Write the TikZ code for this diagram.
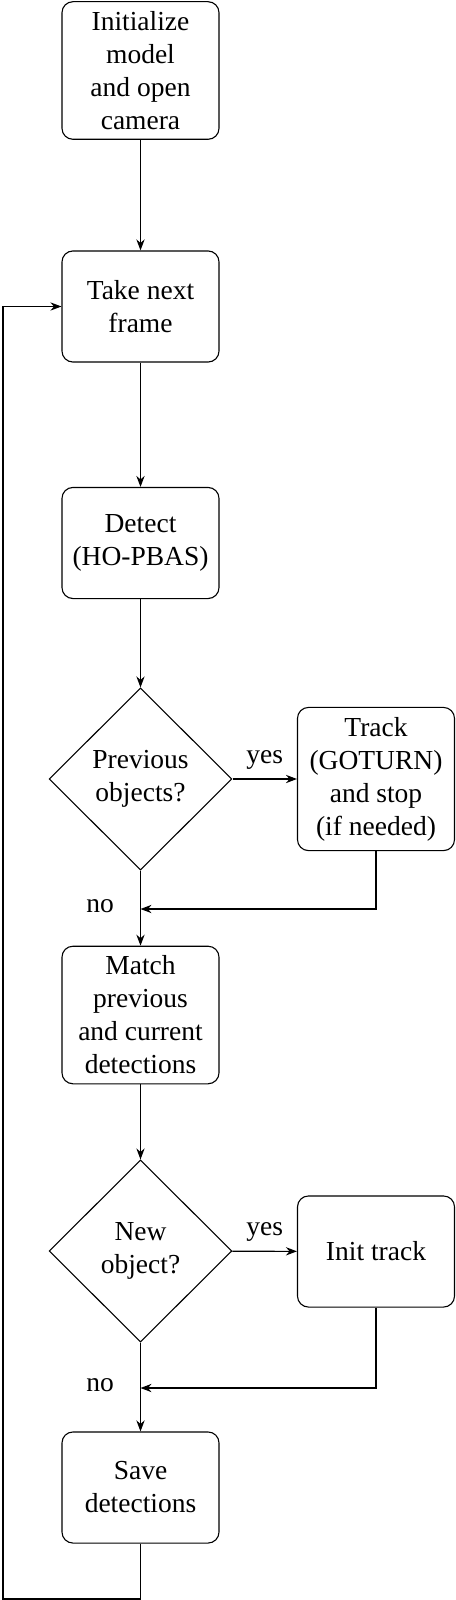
\documentclass[tikz,border=0pt]{standalone}
\usepackage{fontspec}
\setmainfont{Liberation Serif}
\usetikzlibrary{arrows.meta,positioning,shapes.geometric}

\tikzset{
  procbox/.style={draw, rounded corners=4pt, minimum width=57.1pt, minimum height=40.4pt, align=center, inner sep=3.5pt},
  decision/.style={draw, diamond, minimum width=66.5pt, minimum height=66.2pt, inner sep=1pt, align=center},
  flow/.style={->}
}

\begin{document}
\begin{tikzpicture}[x=0.36364pt, y=-0.36364pt, >={Stealth[length=4pt,width=3pt]}, font=\fontsize{10}{12}\selectfont]
  \useasboundingbox (0,0) rectangle (456,1600);
  % main column
  \node[procbox] (init) at (140.5,70.5) {Initialize\\ model\\ and open\\ camera};
  \node[procbox] (frame) at (140.5,306.5) {Take next\\ frame};
  \node[procbox] (detect) at (140.5,543) {Detect\\ (HO-PBAS)};
  \node[decision] (prev) at (140.5,779) {Previous\\ objects?};
  \node[procbox] (match) at (140.5,1015) {Match\\ previous\\ and current\\ detections};
  \node[decision] (new) at (140.5,1251) {New\\ object?};
  \node[procbox] (save) at (140.5,1487.5) {Save\\ detections};
  % side column
  \node[procbox] (track) at (376,779) {Track\\ (GOTURN)\\ and stop\\ (if needed)};
  \node[procbox] (inittrack) at (376,1251.5) {Init track};
  % merge points and loop corner
  \coordinate (merge1) at (140.5,909);
  \coordinate (merge2) at (140.5,1388);
  \coordinate (loopcorner) at (3,1599);
  % connectors
  \draw[flow] (init) -- (frame);
  \draw[flow] (frame) -- (detect);
  \draw[flow] (detect) -- (prev);
  \draw[flow] (prev) -- node[above=0pt] (yes1) {yes} (track);
  \draw[flow] (prev) -- (match);
  \draw[flow] (track.south) |- (merge1);
  \node (no1) at (100,906) {no};
  \draw[flow] (match) -- (new);
  \draw[flow] (new) -- node[above=0pt] (yes2) {yes} (inittrack);
  \draw[flow] (new) -- (save);
  \draw[flow] (inittrack.south) |- (merge2);
  \node (no2) at (100,1385) {no};
  % back to the next frame
  \draw[flow] (save.south) |- (loopcorner) |- (frame.west);
\end{tikzpicture}
\end{document}
